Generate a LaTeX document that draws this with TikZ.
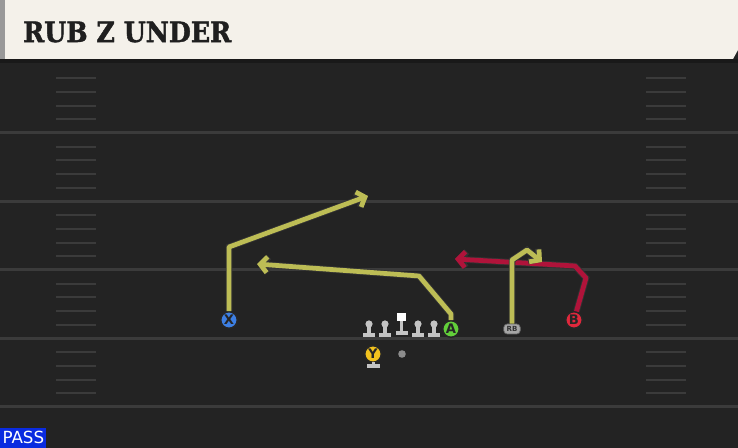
\documentclass[tikz,border=0pt]{standalone}
\usepackage{fontspec}
\setmainfont{DejaVu Sans}
\newfontfamily\titlefont{DejaVu Serif}[FakeStretch=0.9, BoldFeatures={FakeBold=1.5}]
\usetikzlibrary{arrows.meta,positioning}
\definecolor{fieldbg}{HTML}{232323}
\definecolor{yardline}{HTML}{3B3B3B}
\definecolor{headbg}{HTML}{F4F1EA}
\definecolor{routeyel}{HTML}{BDBD55}
\definecolor{routered}{HTML}{B0133A}
\definecolor{xblue}{HTML}{3D7FE3}
\definecolor{agreen}{HTML}{62CF3A}
\definecolor{bred}{HTML}{E0283C}
\definecolor{yyel}{HTML}{F2C21E}
\definecolor{passblue}{HTML}{0A2BE0}
\definecolor{linegray}{HTML}{C4C4C4}
\tikzset{x=0.02cm, y=-0.02cm, % one unit is one pixel of the reference
        player/.style={ % receivers and backs
            circle, draw=black!85, line width=0.8pt,
            minimum size=0.33cm, inner sep=0pt,
            font=\bfseries\fontsize{7.5}{7.5}\selectfont, text=black!85},
        route/.style={ % every route, dark rim below
            line width=2.7pt, line join=round,
            -{Straight Barb[length=4pt,width=9pt]},
            preaction={draw=black!80, line width=3.7pt}},
        lineman/.style={fill=linegray}
        }

\begin{document}
\begin{tikzpicture}
    \useasboundingbox (0,0) rectangle (738,448);
    % field and header
    \fill[fieldbg] (0,0) rectangle (738,448);
    \fill[headbg] (5,0) -- (738,0) -- (738,50) -- (733,59) -- (5,59) -- cycle;
    \fill[black!40] (0,0) rectangle (5,59);
    \fill[black!90] (0,59) rectangle (738,63);
    \node[anchor=west, font=\titlefont\bfseries\fontsize{16}{17}\selectfont, text=black!88] (title) at (17,32) {RUB Z UNDER};

    % yard lines and hash marks
    \foreach \k in {1,...,5}
        \draw[yardline, line width=1.7pt] (0,64.5+68.5*\k) -- (738,64.5+68.5*\k);
    \foreach \j in {1,...,24} {
        \pgfmathtruncatemacro\skip{mod(\j,5)}
        \ifnum\skip>0
            \draw[yardline, line width=1.1pt] (56,64.5+13.7*\j) -- (96,64.5+13.7*\j);
            \draw[yardline, line width=1.1pt] (646,64.5+13.7*\j) -- (686,64.5+13.7*\j);
        \fi
    }

    % offensive line
    \foreach \lx in {369,385,418,434} {
        \fill[lineman] (\lx,324) circle (3.6);
        \fill[lineman] (\lx-1.6,324) rectangle (\lx+1.6,334);
        \fill[lineman] (\lx-6,333) rectangle (\lx+6,337);
    }
    \fill[white] (397,313) rectangle (406,321);
    \fill[lineman] (400,321) rectangle (403,332);
    \fill[lineman] (395.5,331) rectangle (407.5,335);
    \fill[black!45] (402,354) circle (3.8);

    % players
    \node[player, fill=xblue] (X) at (229,320) {X};
    \node[player, fill=agreen] (A) at (451,329) {A};
    \node[player, fill=bred] (B) at (574,320) {B};
    \node[player, fill=yyel] (Y) at (373,354) {Y};
    \fill[lineman] (371.5,362) rectangle (374.5,365);
    \fill[lineman] (367,364.5) rectangle (380,368.5);
    \node[draw=black!60, fill=black!35, rounded corners=2pt, minimum width=0.33cm, minimum height=0.2cm,
          inner sep=0pt, font=\bfseries\fontsize{4}{4}\selectfont, text=black!80] (RB) at (512,329) {RB};

    % route points
    \coordinate (xbreak) at (229,247);
    \coordinate (xend) at (368,196);
    \coordinate (astem) at (451,314);
    \coordinate (abreak) at (419,276);
    \coordinate (aend) at (257,264);
    \coordinate (rbtop) at (512,260);
    \coordinate (rbpeak) at (527,250);
    \coordinate (rbend) at (542,262);
    \coordinate (bstem) at (586,278);
    \coordinate (bbreak) at (575,266);
    \coordinate (bend) at (455,259);

    % routes
    \draw[route, routeyel] (X) -- (xbreak) -- (xend);
    \draw[route, routeyel] (A) -- (astem) -- (abreak) -- (aend);
    \draw[route, routered] (B) -- (bstem) -- (bbreak) -- (bend);
    \draw[route, routeyel] (RB) -- (rbtop) -- (rbpeak) -- (rbend);

    % play type tag
    \node[fill=passblue, text=white, anchor=south west, minimum width=0.92cm, minimum height=0.4cm,
          inner sep=0pt, font=\fontsize{9.5}{10}\selectfont] (tag) at (0,448) {PASS};
\end{tikzpicture}
\end{document}
